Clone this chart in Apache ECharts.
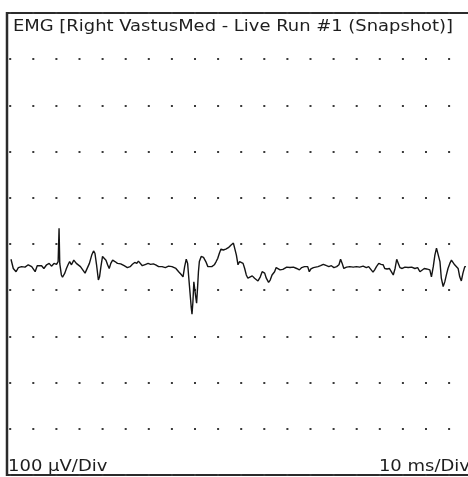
<!DOCTYPE html>
<html>
<head>
<meta charset="utf-8">
<script src="https://cdn.jsdelivr.net/npm/echarts@6/dist/echarts.min.js"></script>
<style>
  html, body { margin: 0; padding: 0; background: #ffffff; }
  #chart { width: 468px; height: 477px; }
</style>
</head>
<body>
<div id="chart"></div>
<script>
// ---- data ----
var titleText = 'EMG [Right VastusMed - Live Run #1 (Snapshot)]';
var yScaleLabel = '100 \u00B5V/Div';
var xScaleLabel = '10 ms/Div';

// time axis (ms) and amplitude axis (µV) ranges / divisions
var xRange = [0, 200];
var xDiv = 10;
var yRange = [-500, 500];
var yDiv = 100;

// EMG trace: time (ms)
var timeMs = [
  1.3, 2.3, 3.5, 4.5, 5.9, 7.4, 8.8, 10.3, 11.0, 11.8,
  12.7, 13.5, 14.6, 15.6, 16.8, 17.9, 18.9, 20.0, 21.1, 21.8,
  22.2, 22.5, 23.2, 23.7, 24.7, 25.4, 26.1, 26.8, 27.6, 28.6,
  29.7, 30.4, 31.5, 32.5, 33.5, 34.3, 35.4, 36.4, 37.2, 37.8,
  38.5, 39.3, 39.8, 40.4, 41.1, 41.9, 42.6, 43.3, 44.0, 44.7,
  45.5, 46.5, 47.6, 49.0, 50.5, 51.9, 53.1, 54.1, 55.1, 56.0,
  56.7, 57.4, 58.4, 59.2, 59.9, 60.9, 62.0, 63.2, 64.2, 65.5,
  67.0, 68.4, 69.8, 71.3, 72.0, 73.0, 74.2, 75.3, 76.1, 76.8,
  77.5, 78.1, 78.5, 79.1, 79.7, 80.0, 80.4, 80.8, 81.3, 81.5,
  82.0, 82.4, 82.8, 83.2, 84.0, 85.0, 86.0, 86.9, 87.6, 88.6,
  89.7, 90.5, 91.2, 91.9, 92.6, 93.6, 94.7, 95.8, 97.0, 98.0,
  98.6, 99.3, 100.0, 100.7, 101.4, 102.2, 102.9, 103.6, 104.3, 105.1,
  106.2, 107.2, 108.7, 109.7, 110.5, 111.6, 112.3, 113.3, 114.0, 114.8,
  115.9, 116.6, 117.3, 118.3, 119.5, 120.2, 121.2, 122.6, 124.1, 125.5,
  126.7, 127.7, 128.9, 129.6, 130.3, 131.0, 131.7, 132.8, 133.8, 134.8,
  135.9, 137.1, 137.7, 138.5, 139.5, 140.6, 141.7, 142.9, 143.9, 144.6,
  145.3, 146.0, 147.2, 148.6, 150.1, 151.5, 152.9, 154.4, 155.8, 156.8,
  157.6, 158.7, 159.4, 160.2, 161.2, 162.2, 163.1, 163.8, 164.8, 165.8,
  166.5, 167.5, 168.3, 169.0, 169.7, 170.4, 171.4, 172.6, 174.0, 175.5,
  176.9, 178.1, 179.1, 179.8, 181.0, 182.0, 182.7, 183.4, 184.1, 184.9,
  185.6, 186.3, 187.0, 187.8, 188.4, 189.2, 189.9, 190.6, 191.3, 192.1,
  192.8, 193.5, 194.2, 194.9, 195.7, 196.4, 197.1, 197.8, 198.6, 199.1
];

// EMG trace: amplitude (µV)
var emgUv = [
  -33, -53, -60, -51, -49, -50, -45, -49, -53, -60,
  -47, -51, -47, -53, -45, -42, -48, -42, -44, -38,
  34, -42, -67, -72, -63, -53, -45, -38, -45, -35,
  -42, -38, -49, -56, -63, -60, -42, -24, -15, -20,
  -45, -78, -71, -49, -27, -25, -35, -45, -53, -42,
  -35, -38, -42, -43, -47, -51, -49, -44, -40, -42,
  -37, -40, -47, -50, -44, -42, -44, -43, -45, -49,
  -49, -51, -48, -49, -47, -53, -60, -66, -71, -49,
  -33, -42, -67, -103, -139, -152, -125, -82, -85, -110,
  -128, -96, -60, -38, -27, -29, -38, -49, -53, -49,
  -45, -38, -31, -20, -11, -13, -11, -8, -2, 2,
  -2, -24, -45, -38, -35, -42, -53, -67, -74, -71,
  -69, -74, -80, -71, -60, -63, -74, -83, -78, -67,
  -60, -51, -49, -56, -55, -51, -50, -51, -50, -53,
  -56, -51, -49, -53, -49, -60, -54, -51, -50, -49,
  -47, -44, -40, -47, -49, -47, -51, -49, -45, -33,
  -42, -53, -50, -49, -50, -49, -50, -48, -51, -49,
  -53, -61, -56, -49, -42, -44, -45, -53, -54, -53,
  -56, -67, -53, -33, -42, -51, -53, -50, -51, -50,
  -53, -51, -60, -56, -53, -54, -53, -56, -71, -49,
  -24, -9, -13, -38, -74, -92, -82, -67, -53, -42,
  -35, -38, -45, -44, -53, -71, -80, -63, -49, -49
];

// ---- chart ----
var trace = timeMs.map(function (t, i) { return [t, emgUv[i]]; });

var chart = echarts.init(document.getElementById('chart'), null, { renderer: 'canvas' });
var fontFam = '"DejaVu Sans", Verdana, sans-serif';
var frameColor = '#2b2b2b';

chart.setOption({
  animation: false,
  backgroundColor: '#ffffff',
  grid: {
    left: 8, top: 13, width: 462, height: 462,
    show: false
  },
  xAxis: {
    type: 'value', min: xRange[0], max: xRange[1], interval: xDiv,
    axisLine: { show: false }, axisTick: { show: false }, axisLabel: { show: false },
    splitLine: { show: false }
  },
  yAxis: {
    type: 'value', min: yRange[0], max: yRange[1], interval: yDiv,
    axisLine: { show: false }, axisTick: { show: false }, axisLabel: { show: false },
    splitLine: {
      show: true,
      lineStyle: { color: '#3a3a3a', width: 2, type: [2, 21.1], dashOffset: 21.9 }
    }
  },
  series: [{
    type: 'line',
    data: trace,
    showSymbol: false,
    smooth: false,
    lineStyle: { color: '#141414', width: 1.4 },
    silent: true
  }],
  graphic: [
    { type: 'line', shape: { x1: 7, y1: 12, x2: 7, y2: 476 }, style: { stroke: frameColor, lineWidth: 2.5 } },
    { type: 'line', shape: { x1: 6, y1: 13, x2: 470, y2: 13 }, style: { stroke: frameColor, lineWidth: 2 } },
    { type: 'line', shape: { x1: 6, y1: 475, x2: 470, y2: 475 }, style: { stroke: frameColor, lineWidth: 2 } },
    {
      type: 'text', x: 13, y: 19, scaleX: 1.12, scaleY: 1,
      style: { text: titleText, fontSize: 16, fontFamily: fontFam, fill: '#1e1e1e', align: 'left', verticalAlign: 'top' }
    },
    {
      type: 'text', x: 8, y: 475, scaleX: 1.2, scaleY: 1,
      style: { text: yScaleLabel, fontSize: 15, fontFamily: fontFam, fill: '#1e1e1e', align: 'left', verticalAlign: 'bottom' }
    },
    {
      type: 'text', x: 470, y: 475, scaleX: 1.2, scaleY: 1,
      style: { text: xScaleLabel, fontSize: 15, fontFamily: fontFam, fill: '#1e1e1e', align: 'right', verticalAlign: 'bottom' }
    }
  ]
});
</script>
</body>
</html>
